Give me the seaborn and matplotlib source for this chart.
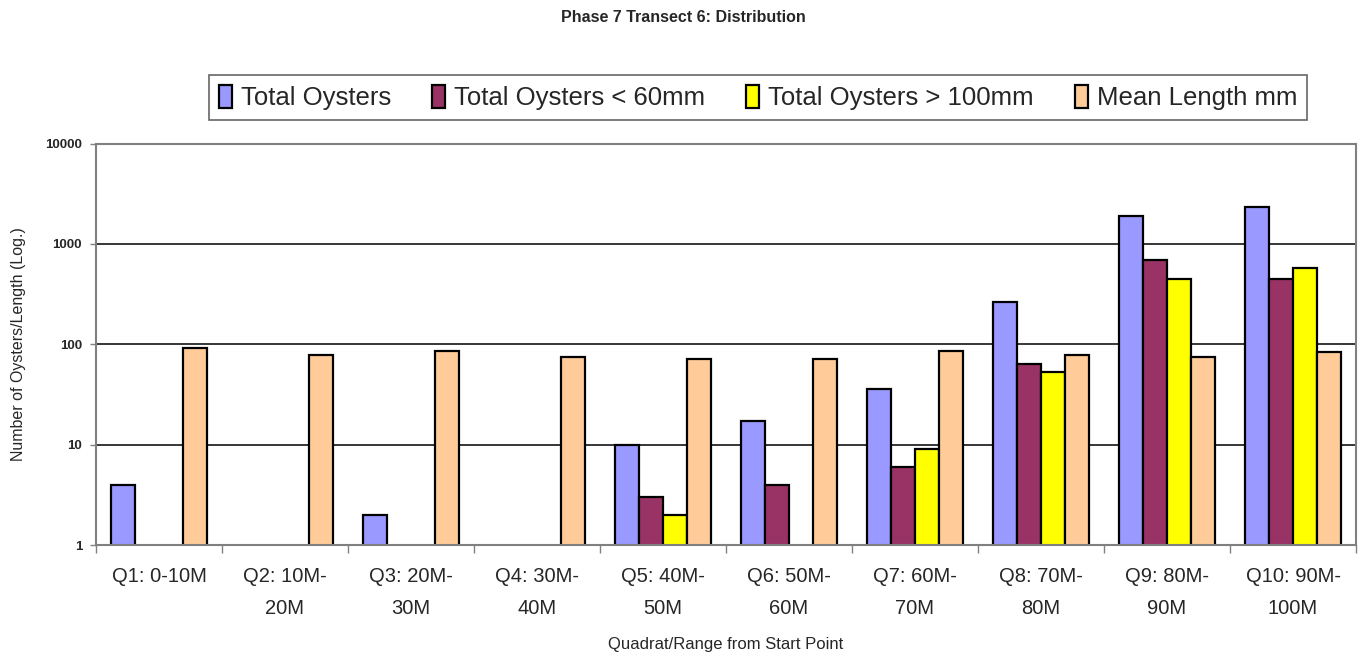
import numpy as np
import pandas as pd
import matplotlib
matplotlib.use("Agg")
import matplotlib.pyplot as plt
from matplotlib.ticker import FixedLocator, NullLocator, FixedFormatter
import seaborn as sns

# Quadrat labels along the transect
categories = ["Q1: 0-10M", "Q2: 10M-\n20M", "Q3: 20M-\n30M", "Q4: 30M-\n40M",
              "Q5: 40M-\n50M", "Q6: 50M-\n60M", "Q7: 60M-\n70M", "Q8: 70M-\n80M",
              "Q9: 80M-\n90M", "Q10: 90M-\n100M"]

series_names = ["Total Oysters", "Total Oysters < 60mm",
                "Total Oysters > 100mm", "Mean Length mm"]

total_oysters = [4, np.nan, 2, np.nan, 10, 17, 36, 266, 1905, 2344]
oysters_lt_60 = [np.nan, np.nan, np.nan, np.nan, 3, 4, 6, 63, 693, 444]
oysters_gt_100 = [np.nan, np.nan, np.nan, np.nan, 2, np.nan, 9, 53, 444, 580]
mean_length = [91, 79, 86, 75, 72, 72, 86, 79, 75, 83]

colors = ["#9999FF", "#993366", "#FFFF00", "#FFCC99"]

rows = []
for name, vals in zip(series_names,
                      [total_oysters, oysters_lt_60, oysters_gt_100, mean_length]):
    for cat, v in zip(categories, vals):
        rows.append({"Quadrat": cat, "Series": name, "Value": v})
df = pd.DataFrame(rows)

sns.set_theme(style="white")
plt.rcParams["font.family"] = ["Liberation Sans", "DejaVu Sans"]

fig = plt.figure(figsize=(13.66, 6.55), dpi=100)
ax = fig.add_axes([96 / 1366, 1 - 545 / 655, (1356 - 96) / 1366, (545 - 143.5) / 655])

ax.set_yscale("log")
sns.barplot(data=df, x="Quadrat", y="Value", hue="Series",
            order=categories, hue_order=series_names, palette=colors,
            width=0.76, dodge=True, errorbar=None, ax=ax,
            edgecolor="black", linewidth=1.6, saturation=1)

ax.set_ylim(1, 10000)
ax.set_xlim(-0.5, len(categories) - 0.5)

# Gridlines at each decade
ax.yaxis.set_major_locator(FixedLocator([1, 10, 100, 1000, 10000]))
ax.yaxis.set_major_formatter(FixedFormatter(["1", "10", "100", "1000", "10000"]))
ax.yaxis.set_minor_locator(NullLocator())
ax.grid(axis="y", which="major", color="black", linewidth=1.1)
ax.set_axisbelow(True)

# Category labels centred, tick marks on boundaries
ax.set_xticks(range(len(categories)))
ax.set_xticklabels(categories, fontsize=14.5, linespacing=1.85)
ax.set_xticks(np.arange(-0.5, len(categories), 1.0), minor=True)
ax.tick_params(axis="x", which="major", length=0, pad=16)
ax.tick_params(axis="x", which="minor", length=6, width=1, color="#808080",
               direction="out", bottom=True)
ax.tick_params(axis="y", which="major", length=4, width=1, color="#808080",
               direction="out", left=True, labelsize=9.5, pad=6)
for lbl in ax.get_yticklabels():
    lbl.set_fontweight("bold")

for side in ["left", "bottom", "top", "right"]:
    ax.spines[side].set_visible(True)
    ax.spines[side].set_color("#808080")
    ax.spines[side].set_linewidth(1.5)

ax.set_xlabel("Quadrat/Range from Start Point", fontsize=12, va="center")
ax.xaxis.set_label_coords(0.5, -100 / 401.5)
ax.set_ylabel("Number of Oysters/Length (Log.)", fontsize=11.5, labelpad=14)

fig.suptitle("Phase 7 Transect 6: Distribution", y=0.985, fontsize=11.5,
             fontweight="bold")

handles, labels = ax.get_legend_handles_labels()
leg = ax.legend(handles, labels, ncol=4, loc="center",
                bbox_to_anchor=((758 - 96) / 1260, 1 + (143.5 - 97.5) / 401.5),
                fontsize=18.5, frameon=True, fancybox=False, edgecolor="#404040",
                handlelength=0.5, handleheight=1.0, handletextpad=0.35,
                columnspacing=1.6, borderpad=0.4)
leg.get_frame().set_linewidth(1.2)

fig.savefig("out.png", dpi=100, facecolor="white")
